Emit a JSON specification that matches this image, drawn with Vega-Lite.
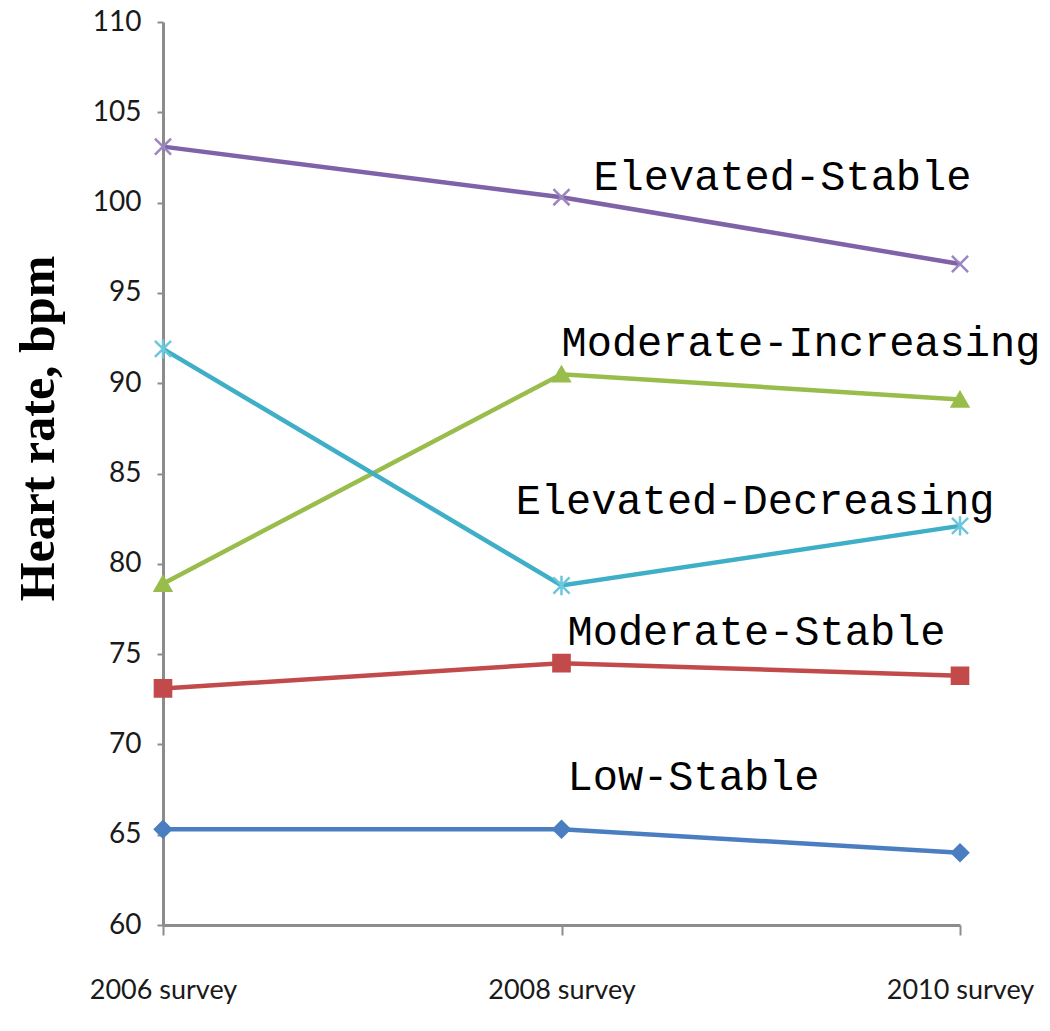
{
  "$schema": "https://vega.github.io/schema/vega-lite/v6.json",
  "width": 797,
  "height": 903,
  "autosize": {"type": "none"},
  "padding": {"left": 163, "top": 22, "right": 90, "bottom": 106},
  "background": "white",
  "config": {"view": {"stroke": null}},
  "datasets": {
    "points": [
      {"series": "Elevated-Stable", "year": 2006, "hr": 103.1},
      {"series": "Elevated-Stable", "year": 2008, "hr": 100.3},
      {"series": "Elevated-Stable", "year": 2010, "hr": 96.6},
      {"series": "Moderate-Increasing", "year": 2006, "hr": 78.9},
      {"series": "Moderate-Increasing", "year": 2008, "hr": 90.5},
      {"series": "Moderate-Increasing", "year": 2010, "hr": 89.1},
      {"series": "Elevated-Decreasing", "year": 2006, "hr": 91.9},
      {"series": "Elevated-Decreasing", "year": 2008, "hr": 78.8},
      {"series": "Elevated-Decreasing", "year": 2010, "hr": 82.1},
      {"series": "Moderate-Stable", "year": 2006, "hr": 73.1},
      {"series": "Moderate-Stable", "year": 2008, "hr": 74.5},
      {"series": "Moderate-Stable", "year": 2010, "hr": 73.8},
      {"series": "Low-Stable", "year": 2006, "hr": 65.3},
      {"series": "Low-Stable", "year": 2008, "hr": 65.3},
      {"series": "Low-Stable", "year": 2010, "hr": 64.0}
    ],
    "labels": [
      {"label": "Elevated-Stable", "year": 2008.16, "hr": 101.4},
      {"label": "Moderate-Increasing", "year": 2008.0, "hr": 92.2},
      {"label": "Elevated-Decreasing", "year": 2007.77, "hr": 83.5},
      {"label": "Moderate-Stable", "year": 2008.03, "hr": 76.2},
      {"label": "Low-Stable", "year": 2008.03, "hr": 68.2}
    ]
  },
  "layer": [
    {
      "data": {"name": "points"},
      "mark": {"type": "line", "strokeWidth": 4.5},
      "encoding": {
        "x": {
          "field": "year", "type": "quantitative",
          "scale": {"domain": [2006, 2010], "nice": false, "zero": false},
          "axis": {
            "values": [2006, 2008, 2010],
            "labelExpr": "datum.value + ' survey'",
            "title": null, "grid": false,
            "domainColor": "#8c8c8c", "domainWidth": 3,
            "tickColor": "#8c8c8c", "tickWidth": 2, "tickSize": 10, "tickOffset": 0,
            "labelFont": "Lato", "labelFontSize": 27, "labelColor": "#1a1a1a",
            "labelPadding": 42, "labelFlush": false
          }
        },
        "y": {
          "field": "hr", "type": "quantitative",
          "scale": {"domain": [60, 110], "nice": false, "zero": false},
          "axis": {
            "values": [60, 65, 70, 75, 80, 85, 90, 95, 100, 105, 110],
            "grid": false,
            "domainColor": "#8c8c8c", "domainWidth": 3,
            "tickColor": "#8c8c8c", "tickWidth": 2, "tickSize": 6,
            "labelFont": "Lato", "labelFontSize": 28, "labelColor": "#1a1a1a",
            "labelPadding": 16,
            "title": "Heart rate, bpm",
            "titleFont": "Liberation Serif", "titleFontSize": 50, "titleFontWeight": "bold",
            "titleColor": "#000000",
            "titleAngle": -90, "titleX": -125, "titleY": 406, "titleBaseline": "middle", "titleAlign": "center"
          }
        },
        "color": {
          "field": "series", "type": "nominal", "legend": null,
          "scale": {
            "domain": ["Elevated-Stable", "Moderate-Increasing", "Elevated-Decreasing", "Moderate-Stable", "Low-Stable"],
            "range": ["#7F62A8", "#98BD4A", "#3FAFC8", "#C24A4A", "#4A7EC1"]
          }
        },
        "detail": {"field": "series"}
      }
    },
    {
      "data": {"name": "points"},
      "mark": {"type": "point", "filled": true, "size": 260, "strokeWidth": 2.5, "opacity": 1},
      "encoding": {
        "x": {"field": "year", "type": "quantitative"},
        "y": {"field": "hr", "type": "quantitative"},
        "color": {
          "field": "series", "type": "nominal", "legend": null,
          "scale": {
            "domain": ["Elevated-Stable", "Moderate-Increasing", "Elevated-Decreasing", "Moderate-Stable", "Low-Stable"],
            "range": ["#7F62A8", "#98BD4A", "#3FAFC8", "#C24A4A", "#4A7EC1"]
          }
        },
        "stroke": {
          "field": "series", "type": "nominal", "legend": null,
          "scale": {
            "domain": ["Elevated-Stable", "Moderate-Increasing", "Elevated-Decreasing", "Moderate-Stable", "Low-Stable"],
            "range": ["#9C86C0", "#98BD4A", "#6CC6DC", "#C24A4A", "#4A7EC1"]
          }
        },
        "shape": {
          "field": "series", "type": "nominal", "legend": null,
          "scale": {
            "domain": ["Elevated-Stable", "Moderate-Increasing", "Elevated-Decreasing", "Moderate-Stable", "Low-Stable"],
            "range": [
              "M-1,-1L1,1M-1,1L1,-1",
              "triangle-up",
              "M-1,-1L1,1M-1,1L1,-1M0,-1.2L0,1.2",
              "square",
              "diamond"
            ]
          }
        }
      }
    },
    {
      "data": {"name": "labels"},
      "mark": {"type": "text", "font": "Liberation Mono", "fontSize": 42, "align": "left", "baseline": "middle", "color": "#000000"},
      "encoding": {
        "x": {"field": "year", "type": "quantitative"},
        "y": {"field": "hr", "type": "quantitative"},
        "text": {"field": "label"}
      }
    }
  ]
}
